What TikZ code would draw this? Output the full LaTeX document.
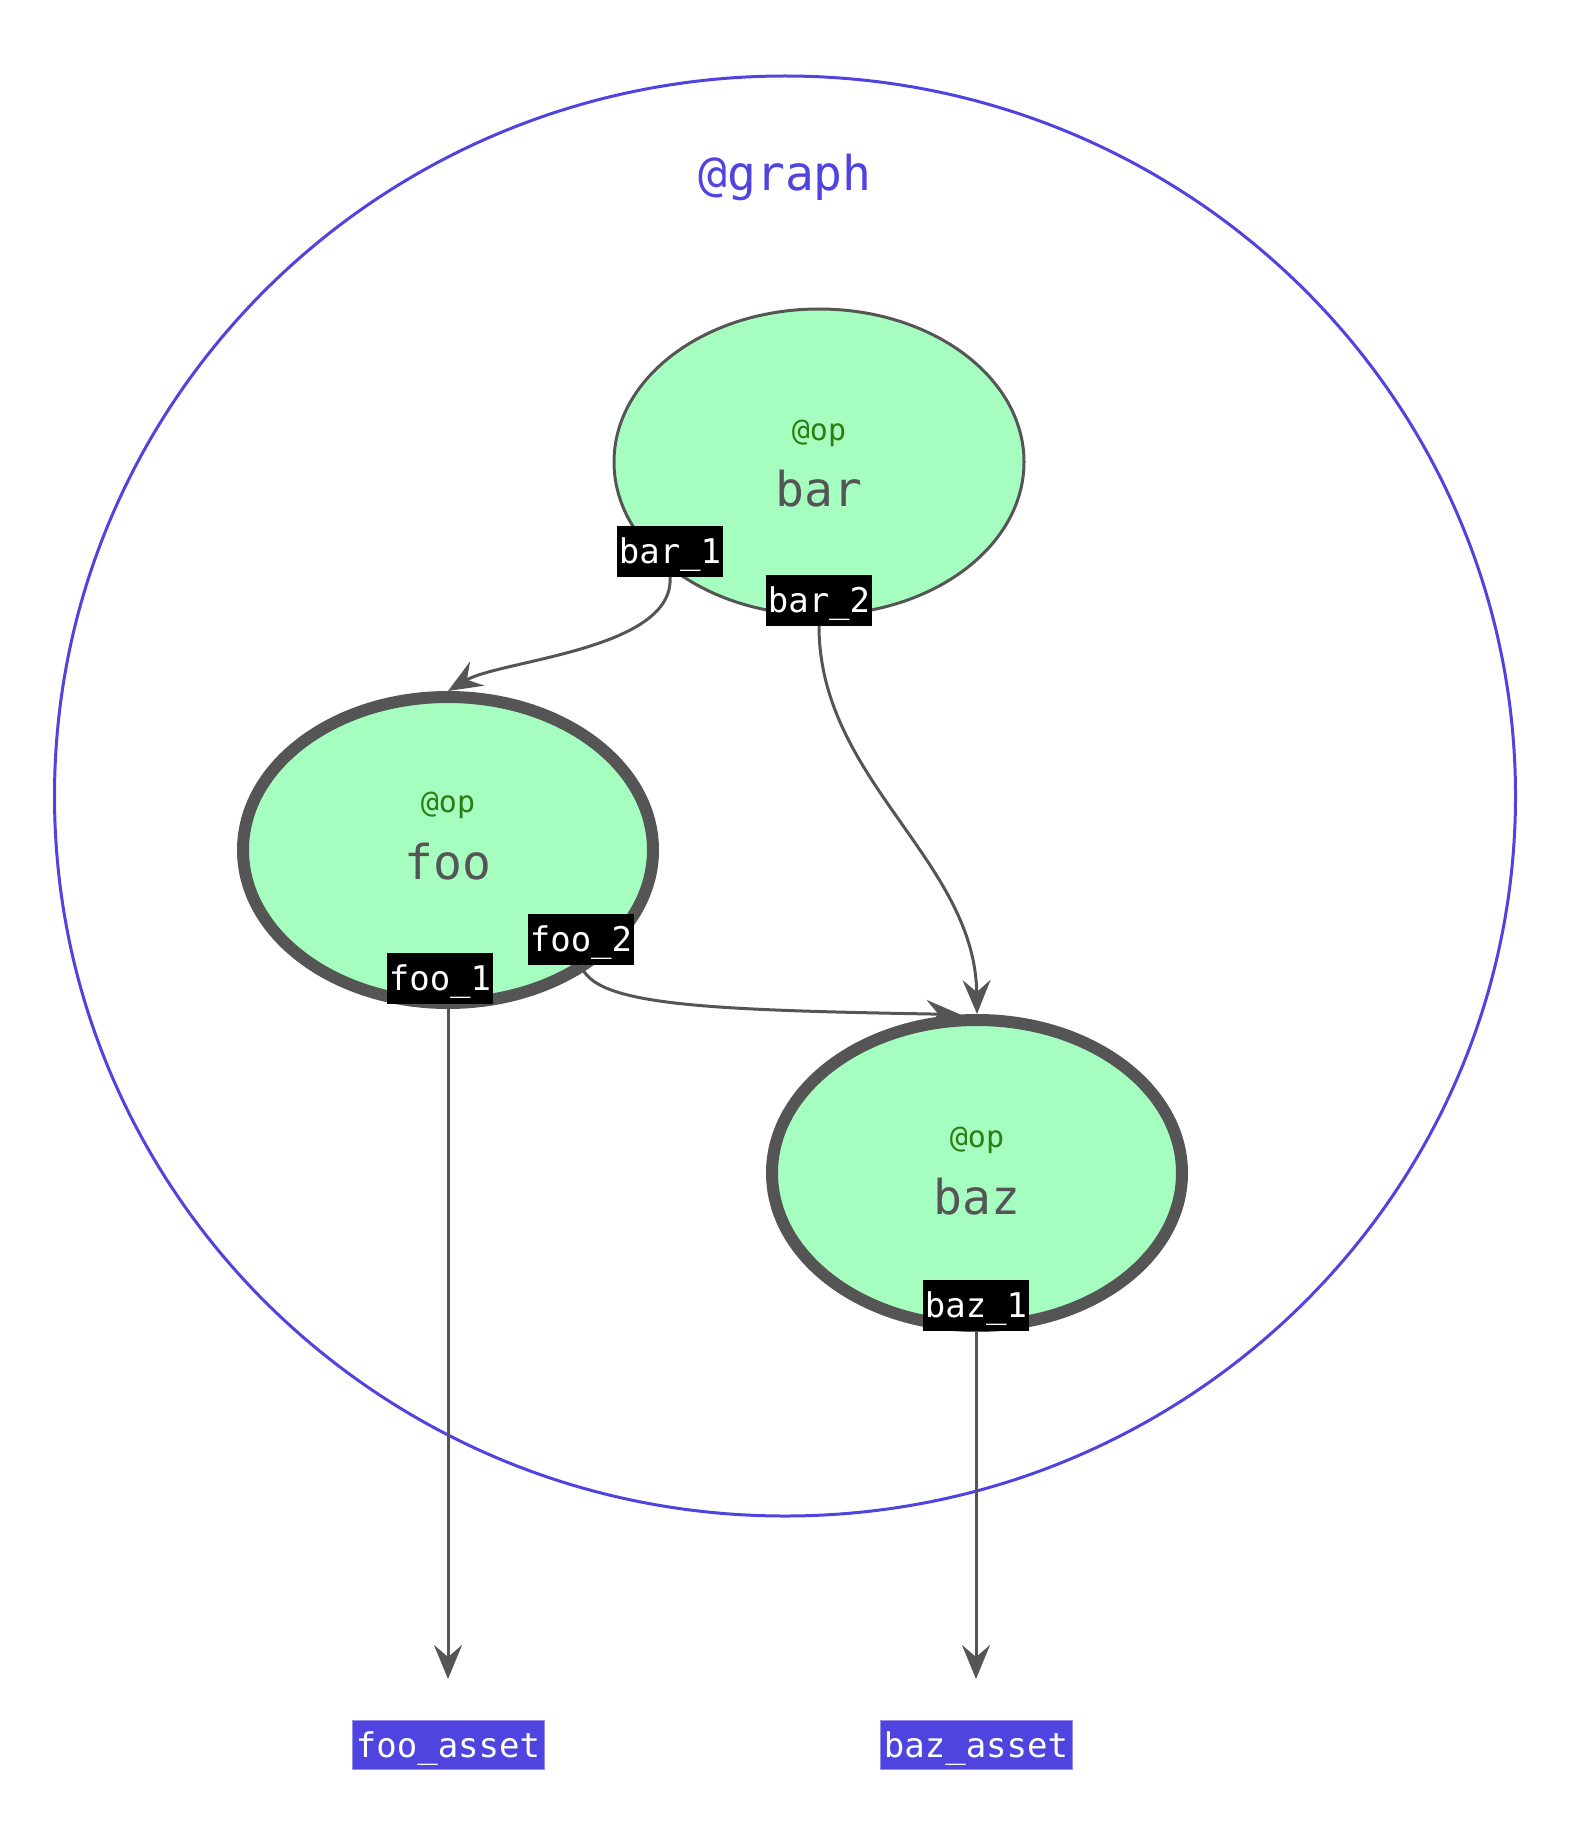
\documentclass[tikz,border=0pt]{standalone}
\usepackage{fontspec}
\setmonofont{DejaVu Sans Mono}
\usetikzlibrary{shapes.geometric,arrows.meta}
\definecolor{indigo}{HTML}{4F44E0}
\definecolor{opfill}{HTML}{A6FDC0}
\definecolor{edgegray}{HTML}{555555}
\definecolor{opgreen}{HTML}{2E7D12}
\begin{document}
\begin{tikzpicture}[x=0.5pt,y=-0.5pt,
  opnode/.style={ellipse, draw=edgegray, fill=opfill, minimum width=205pt, minimum height=153pt, inner sep=0pt},
  thinop/.style={opnode, line width=1.5pt},
  thickop/.style={opnode, line width=6pt},
  optag/.style={font=\ttfamily\fontsize{15}{15}\selectfont, text=opgreen, inner sep=0pt},
  opname/.style={font=\ttfamily\fontsize{24}{24}\selectfont, text=edgegray, inner sep=0pt},
  port/.style={fill=black, text=white, font=\ttfamily\fontsize{17}{17}\selectfont, minimum width=53pt, minimum height=25.5pt, inner sep=0pt, text height=12.5pt, text depth=0pt},
  asset/.style={port, fill=indigo, draw=indigo!60, line width=0.5pt, minimum width=96pt, minimum height=24.5pt},
  flow/.style={draw=edgegray, line width=1.5pt, -{Stealth[length=17pt,width=14pt,inset=6pt]}}
]
\useasboundingbox (0,0) rectangle (1568,1824);
% outer graph
\node[ellipse, draw=indigo, line width=1.5pt, minimum width=730.5pt, minimum height=720pt, inner sep=0pt] (graph) at (785,796) {};
\node[font=\ttfamily\fontsize{24}{24}\selectfont, text=indigo, inner sep=0pt] (graphlabel) at (785,177) {@graph};
% ops
\node[thinop] (bar) at (819,462) {};
\node[optag] (barop) at (819,433) {@op};
\node[opname] (barname) at (819,489) {bar};
\node[thickop] (foo) at (448,850) {};
\node[optag] (fooop) at (448,805) {@op};
\node[opname] (fooname) at (448,862) {foo};
\node[thickop] (baz) at (977,1173) {};
\node[optag] (bazop) at (977,1140) {@op};
\node[opname] (bazname) at (977,1197) {baz};
% ports
\node[port] (bar1) at (670,551) {bar\_1};
\node[port] (bar2) at (819,600) {bar\_2};
\node[port] (foo1) at (440,978) {foo\_1};
\node[port] (foo2) at (581,939) {foo\_2};
\node[port] (baz1) at (976,1305) {baz\_1};
% assets
\node[asset] (fooasset) at (448,1745) {foo\_asset};
\node[asset] (bazasset) at (976,1745) {baz\_asset};
% edges
\draw[flow] (bar1.south) .. controls (675,650) and (500,660) .. (foo.north);
\draw[flow] (bar2.south) .. controls (819,780) and (975,860) .. (baz.north);
\draw[flow] (foo2.south) .. controls (593,1005) and (700,1010) .. (baz.96);
\draw[flow] (foo1.south -| foo.center) -- ([yshift=20.5pt]fooasset.north);
\draw[flow] (baz1.south) -- ([yshift=20.5pt]bazasset.north);
\end{tikzpicture}
\end{document}
